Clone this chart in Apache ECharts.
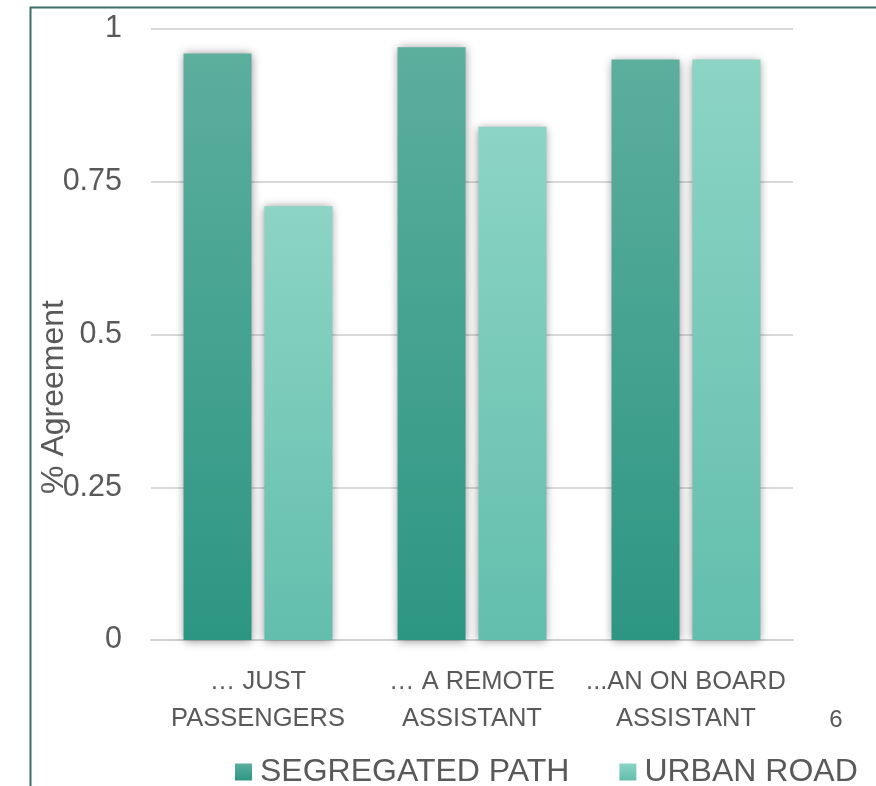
<!DOCTYPE html>
<html>
<head>
<meta charset="utf-8">
<script src="https://cdn.jsdelivr.net/npm/echarts@6/dist/echarts.min.js"></script>
<style>
  html, body { margin: 0; padding: 0; background: #fff; }
  #chart { width: 876px; height: 786px; }
</style>
</head>
<body>
<div id="chart"></div>
<script>
// chart data
const categories = ['\u2026 JUST\nPASSENGERS', '\u2026 A REMOTE\nASSISTANT', '...AN ON BOARD\nASSISTANT']
const segregatedPath = [0.96, 0.97, 0.95]
const urbanRoad = [0.71, 0.84, 0.95]
const seriesNames = ['SEGREGATED PATH', 'URBAN ROAD']

const textColor = '#595959'
const fontFamily = "'Liberation Sans', Arial, sans-serif"

function grad(top, bottom) {
  return new echarts.graphic.LinearGradient(0, 0, 0, 1, [
    { offset: 0, color: top },
    { offset: 1, color: bottom }
  ])
}

const barStyle = {
  shadowBlur: 9,
  shadowColor: 'rgba(0, 0, 0, 0.45)',
  shadowOffsetX: 0,
  shadowOffsetY: 1
}

const chart = echarts.init(document.getElementById('chart'))
chart.setOption({
  animation: false,
  textStyle: { fontFamily: fontFamily, color: textColor },
  grid: {
    left: 151,
    right: 83,
    top: 29,
    bottom: 146
  },
  legend: {
    left: 230,
    top: 751,
    itemWidth: 17,
    itemHeight: 17,
    itemGap: 50,
    icon: 'rect',
    textStyle: { fontSize: 32, color: textColor, fontFamily: fontFamily, padding: [0, 0, 0, 3] },
    data: seriesNames
  },
  xAxis: {
    type: 'category',
    data: categories,
    axisTick: { show: false },
    axisLine: { lineStyle: { color: '#d0d0d0', width: 2 } },
    axisLabel: {
      color: textColor,
      fontSize: 25.5,
      lineHeight: 37,
      margin: 23,
      interval: 0
    }
  },
  yAxis: {
    type: 'value',
    min: 0,
    max: 1,
    interval: 0.25,
    axisLine: { show: false },
    axisTick: { show: false },
    splitLine: { lineStyle: { color: '#d9d9d9', width: 2 } },
    axisLabel: { color: textColor, fontSize: 30.5, margin: 29 }
  },
  graphic: [
    {
      type: 'rect',
      left: 28,
      top: 5,
      shape: { width: 900, height: 850 },
      style: { fill: 'none', stroke: '#3a6f66', lineWidth: 2 },
      silent: true
    },
    {
      type: 'text',
      x: 54,
      y: 397,
      rotation: Math.PI / 2,
      style: {
        text: '% Agreement',
        fill: textColor,
        font: '32px ' + fontFamily,
        align: 'center',
        verticalAlign: 'middle'
      }
    },
    {
      type: 'text',
      x: 836,
      y: 720,
      style: {
        text: '6',
        fill: textColor,
        font: '24px ' + fontFamily,
        align: 'center',
        verticalAlign: 'middle'
      }
    }
  ],
  series: [
    {
      name: seriesNames[0],
      type: 'bar',
      barWidth: 68,
      barGap: '19%',
      data: segregatedPath,
      itemStyle: Object.assign({ color: grad('#5cae9d', '#2d9683') }, barStyle)
    },
    {
      name: seriesNames[1],
      type: 'bar',
      barWidth: 68,
      data: urbanRoad,
      itemStyle: Object.assign({ color: grad('#8cd4c4', '#63bead') }, barStyle)
    }
  ]
})
</script>
</body>
</html>
